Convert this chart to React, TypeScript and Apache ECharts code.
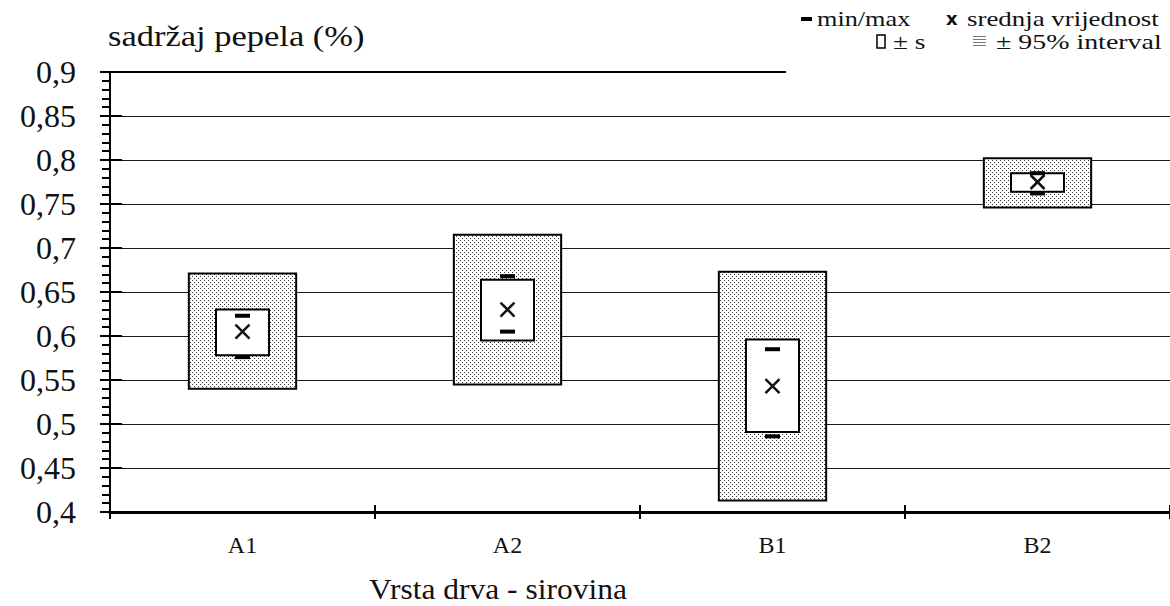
import React, { useEffect, useRef } from "react";
import * as echarts from "echarts";

const categories = ["A1", "A2", "B1", "B2"];
const ci95Low = [0.54, 0.545, 0.413, 0.746];
const ci95High = [0.671, 0.715, 0.673, 0.802];
const sdLow = [0.578, 0.595, 0.491, 0.764];
const sdHigh = [0.63, 0.664, 0.596, 0.785];
const minVals = [0.576, 0.605, 0.486, 0.762];
const maxVals = [0.623, 0.668, 0.585, 0.785];
const means = [0.605, 0.63, 0.543, 0.775];

const yMin = 0.4;
const yMax = 0.9;
const yStep = 0.05;

const SERIF = "Liberation Serif";

function makeDotPattern() {
  const c = document.createElement("canvas");
  c.width = 4;
  c.height = 4;
  const ctx = c.getContext("2d")!;
  ctx.fillStyle = "#ffffff";
  ctx.fillRect(0, 0, 4, 4);
  ctx.fillStyle = "#333333";
  ctx.fillRect(0, 0, 1, 1);
  ctx.fillRect(2, 2, 1, 1);
  return { image: c, repeat: "repeat", imageWidth: 4, imageHeight: 4 };
}

function makeLinePattern() {
  const c = document.createElement("canvas");
  c.width = 4;
  c.height = 3;
  const ctx = c.getContext("2d")!;
  ctx.fillStyle = "#ffffff";
  ctx.fillRect(0, 0, 4, 3);
  ctx.fillStyle = "#777777";
  ctx.fillRect(0, 0, 4, 1);
  return { image: c, repeat: "repeat", imageWidth: 4, imageHeight: 3 };
}

export default function App() {
  const ref = useRef<HTMLDivElement>(null);

  useEffect(() => {
    if (!ref.current) return;
    const chart = echarts.init(ref.current, undefined, { renderer: "svg" });
    const dots = makeDotPattern();
    const hatch = makeLinePattern();

    const data = categories.map((_, i) => [
      i,
      ci95Low[i],
      ci95High[i],
      sdLow[i],
      sdHigh[i],
      minVals[i],
      maxVals[i],
      means[i],
    ]);

    const renderItem = (params: any, api: any) => {
      const i = api.value(0);
      const band = api.size([1, 0])[0];
      const [cx, yCiLow] = api.coord([i, api.value(1)]);
      const yCiHigh = api.coord([i, api.value(2)])[1];
      const ySdLow = api.coord([i, api.value(3)])[1];
      const ySdHigh = api.coord([i, api.value(4)])[1];
      const yMinV = api.coord([i, api.value(5)])[1];
      const yMaxV = api.coord([i, api.value(6)])[1];
      const yMean = api.coord([i, api.value(7)])[1];
      const ow = band * 0.405;
      const iw = band * 0.2;
      const mw = 15;
      const xs = 7;
      return {
        type: "group",
        children: [
          {
            type: "rect",
            shape: { x: cx - ow / 2, y: yCiHigh, width: ow, height: yCiLow - yCiHigh },
            style: { fill: dots, stroke: "#000", lineWidth: 2 },
          },
          {
            type: "rect",
            shape: { x: cx - iw / 2, y: ySdHigh, width: iw, height: ySdLow - ySdHigh },
            style: { fill: "#fff", stroke: "#000", lineWidth: 2 },
          },
          {
            type: "rect",
            shape: { x: cx - mw / 2, y: yMinV - 2, width: mw, height: 4 },
            style: { fill: "#000" },
          },
          {
            type: "rect",
            shape: { x: cx - mw / 2, y: yMaxV - 2, width: mw, height: 4 },
            style: { fill: "#000" },
          },
          {
            type: "line",
            shape: { x1: cx - xs, y1: yMean - xs, x2: cx + xs, y2: yMean + xs },
            style: { stroke: "#111", lineWidth: 2.5 },
          },
          {
            type: "line",
            shape: { x1: cx - xs, y1: yMean + xs, x2: cx + xs, y2: yMean - xs },
            style: { stroke: "#111", lineWidth: 2.5 },
          },
        ],
      };
    };

    const yAxisBase = {
      type: "value",
      min: yMin,
      max: yMax,
      interval: yStep,
    };

    const legendText = (text: string, x: number, y: number, sx: number) => ({
      type: "text",
      z: 52,
      x,
      y,
      scaleX: sx,
      style: {
        text,
        fontFamily: SERIF,
        fontSize: 21,
        fill: "#111",
        align: "left",
        verticalAlign: "middle",
      },
    });

    chart.setOption({
      animation: false,
      backgroundColor: "#ffffff",
      textStyle: { fontFamily: SERIF },
      grid: { left: 110, top: 72, right: -6, bottom: 94, containLabel: false },
      xAxis: [
        {
          type: "category",
          data: categories,
          position: "bottom",
          axisLine: { show: true, lineStyle: { color: "#000", width: 3 } },
          axisTick: { show: true, length: 7, lineStyle: { color: "#000", width: 2 } },
          axisLabel: {
            fontFamily: SERIF,
            fontSize: 24,
            color: "#111",
            margin: 21,
          },
          splitLine: { show: false },
        },
        {
          type: "category",
          data: categories,
          position: "bottom",
          axisLine: { show: false },
          axisTick: { show: true, inside: true, length: 7, lineStyle: { color: "#000", width: 2 } },
          axisLabel: { show: false },
          splitLine: { show: false },
        },
      ],
      yAxis: [
        {
          ...yAxisBase,
          position: "left",
          axisLine: { show: true, lineStyle: { color: "#000", width: 2 } },
          axisTick: { show: true, length: 10, lineStyle: { color: "#000", width: 2 } },
          minorTick: { show: true, splitNumber: 5, length: 8, lineStyle: { color: "#000", width: 2 } },
          axisLabel: {
            fontFamily: SERIF,
            fontSize: 32,
            color: "#111",
            margin: 34,
            formatter: (v: number) => String(Math.round(v * 100) / 100).replace(".", ","),
          },
          splitLine: { show: true, lineStyle: { color: "#1a1a1a", width: 1 } },
        },
        {
          ...yAxisBase,
          position: "left",
          axisLine: { show: false },
          axisTick: { show: true, inside: true, length: 12, lineStyle: { color: "#000", width: 2 } },
          axisLabel: { show: false },
          splitLine: { show: false },
        },
      ],
      graphic: [
        {
          type: "rect",
          z: 50,
          shape: { x: 786, y: 0, width: 400, height: 74 },
          style: { fill: "#ffffff" },
        },
        {
          type: "line",
          z: 51,
          shape: { x1: 110, y1: 72, x2: 786, y2: 72 },
          style: { stroke: "#000", lineWidth: 2 },
        },
        {
          type: "text",
          z: 52,
          x: 108,
          y: 36,
          scaleX: 1.15,
          style: {
            text: "sadržaj pepela (%)",
            fontFamily: SERIF,
            fontSize: 30,
            fill: "#111",
            align: "left",
            verticalAlign: "middle",
          },
        },
        {
          type: "text",
          z: 52,
          x: 498,
          y: 589,
          scaleX: 1.05,
          style: {
            text: "Vrsta drva - sirovina",
            fontFamily: SERIF,
            fontSize: 30,
            fill: "#111",
            align: "center",
            verticalAlign: "middle",
          },
        },
        {
          type: "rect",
          z: 52,
          shape: { x: 801, y: 17, width: 11, height: 4 },
          style: { fill: "#000" },
        },
        legendText("min/max", 817, 19, 1.25),
        {
          type: "text",
          z: 52,
          x: 946,
          y: 18,
          style: {
            text: "x",
            fontFamily: "DejaVu Sans",
            fontWeight: "bold",
            fontSize: 18,
            fill: "#111",
            align: "left",
            verticalAlign: "middle",
          },
        },
        legendText("srednja vrijednost", 967, 19, 1.28),
        {
          type: "rect",
          z: 52,
          shape: { x: 877, y: 35, width: 8, height: 13 },
          style: { fill: "#fff", stroke: "#000", lineWidth: 1.5 },
        },
        legendText("± s", 893, 42, 1.3),
        {
          type: "rect",
          z: 52,
          shape: { x: 973, y: 34, width: 13, height: 14 },
          style: { fill: hatch as any },
        },
        legendText("± 95% interval", 996, 42, 1.33),
      ],
      series: [
        {
          type: "custom",
          coordinateSystem: "cartesian2d",
          xAxisIndex: 0,
          yAxisIndex: 0,
          renderItem,
          encode: { x: 0, y: [1, 2, 3, 4, 5, 6, 7] },
          data,
          z: 10,
        },
      ],
    });

    return () => chart.dispose();
  }, []);

  return (
    <div
      ref={ref}
      style={{ position: "fixed", left: 0, top: 0, width: 1170, height: 606, background: "#fff" }}
    />
  );
}
